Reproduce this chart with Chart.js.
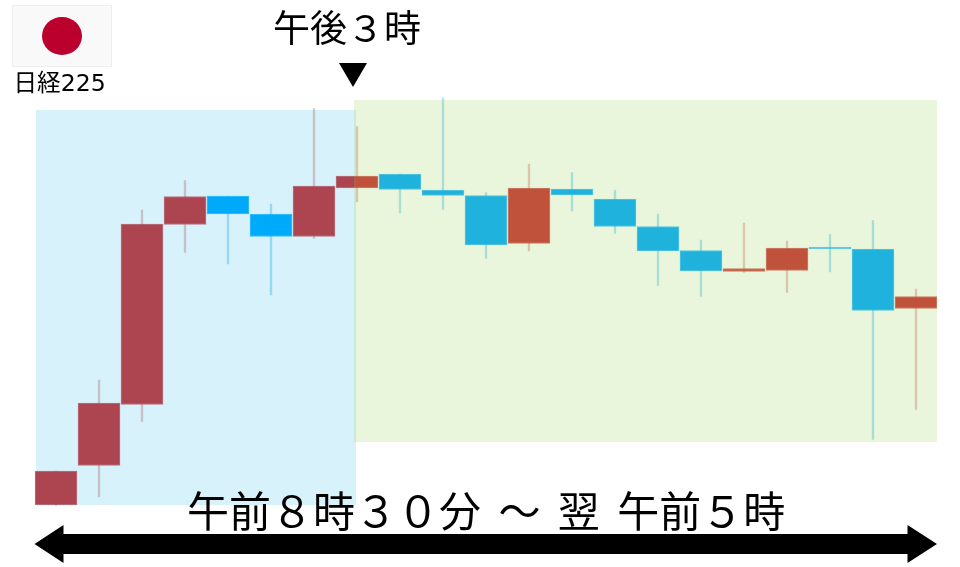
<!DOCTYPE html>
<html lang="ja">
<head>
<meta charset="utf-8">
<script src="https://cdn.jsdelivr.net/npm/chart.js@4/dist/chart.umd.min.js"></script>
<style>
html,body{margin:0;padding:0;background:#fff;width:960px;height:567px;overflow:hidden}
#wrap{position:relative;width:960px;height:567px}
canvas{position:absolute;left:0;top:0}
.t{position:absolute;white-space:pre;color:#000;font-family:"Noto Sans CJK JP","Noto Sans",sans-serif;line-height:1}
</style>
</head>
<body>
<div id="wrap">
<canvas id="c" width="960" height="567"></canvas>
<div class="t" id="t1" style="left:273px;top:8px;font-size:37px">午後３時</div>
<div class="t" id="t2" style="left:13.5px;top:72px;font-size:23.6px;font-family:'DejaVu Sans','Noto Sans CJK JP',sans-serif">日経225</div>
<div class="t" id="t3" style="left:187px;top:488px;font-size:42px;word-spacing:8px">午前８時３０分 ～ 翌 午前５時</div>
</div>
<script>
// Session slots (21 sessions from 08:30 to 05:00 next day)
const slots = ["s01","s02","s03","s04","s05","s06","s07","s08","s09","s10","s11","s12","s13","s14","s15","s16","s17","s18","s19","s20","s21"];
// Relative price level (no axis is shown)
const opens  = [62,101.5,162.5,342.5,371,353,330.5,379,393,377,371.5,323.5,378,368,340.5,316.5,295.5,296.5,320,318,258.5];
const closes = [96,164,343,370.5,353,330.5,381,391,377.5,371.5,322,379,372,340.5,316,296,298.5,319,318,256.5,270.5];
const highs  = [96,187,357,386.5,371,363,458.5,440.5,393,469,374.5,403,394.5,377,353,327,344,326,332.5,346.5,278];
const lows   = [61.5,70,145.5,314.5,303,272,328.5,365,354,357.5,308.5,316,356,333.5,281.5,270.5,294.5,274.5,295,127.5,157.5];

const red = "rgb(203,51,54)", blue = "rgb(0,170,255)";
const isUp = opens.map((o,i)=>closes[i]>=opens[i]);
const bodyColor = isUp.map(u=>u?red:blue);
const bodyEdge  = isUp.map(u=>u?"rgba(203,51,54,0.72)":"rgba(0,170,255,0.72)");
const wickColor = isUp.map(u=>u?"rgba(195,90,90,0.36)":"rgba(30,170,235,0.36)");

const overlays = {
  id:"overlays",
  afterDatasetsDraw(ch){
    const g=ch.ctx; g.save();
    g.fillStyle="rgba(0,170,232,0.153)"; g.fillRect(36,110,320,395);
    g.fillStyle="rgba(148,212,80,0.2)"; g.fillRect(354,100,583,342);
    g.restore();
  },
  afterDraw(ch){
    const g=ch.ctx; g.save();
    // flag
    g.fillStyle="#F9F9F9"; g.fillRect(12,5,100,62);
    g.strokeStyle="#EEEEEE"; g.lineWidth=1; g.strokeRect(12.5,5.5,99,61);
    g.fillStyle="#BC002D"; g.beginPath(); g.ellipse(62,36,20,19,0,0,Math.PI*2); g.fill();
    // marker
    g.fillStyle="#000"; g.beginPath(); g.moveTo(339,63); g.lineTo(367,63); g.lineTo(353,87); g.closePath(); g.fill();
    // double arrow
    g.beginPath();
    g.moveTo(34.5,544); g.lineTo(63.5,525); g.lineTo(63.5,534); g.lineTo(907.5,534);
    g.lineTo(907.5,525); g.lineTo(937,544); g.lineTo(907.5,563); g.lineTo(907.5,554);
    g.lineTo(63.5,554); g.lineTo(63.5,563); g.closePath(); g.fill();
    g.restore();
  }
};

new Chart(document.getElementById("c"),{
  type:"bar",
  data:{
    labels:slots,
    datasets:[
      {label:"wick",data:lows.map((l,i)=>[l,highs[i]]),backgroundColor:wickColor,barThickness:1.7,grouped:false,order:2,borderWidth:0},
      {label:"body",data:opens.map((o,i)=>[o,closes[i]]),backgroundColor:bodyColor,borderColor:bodyEdge,borderWidth:1,borderSkipped:false,barThickness:42,grouped:false,order:1}
    ]
  },
  options:{
    responsive:false,animation:false,devicePixelRatio:1,
    layout:{padding:{left:34.5,right:22.5,top:0,bottom:0}},
    plugins:{legend:{display:false},tooltip:{enabled:false},title:{display:false}},
    scales:{
      x:{display:false,offset:true,grid:{display:false}},
      y:{display:false,min:0,max:567,grid:{display:false}}
    }
  },
  plugins:[overlays]
});
</script>
</body>
</html>
